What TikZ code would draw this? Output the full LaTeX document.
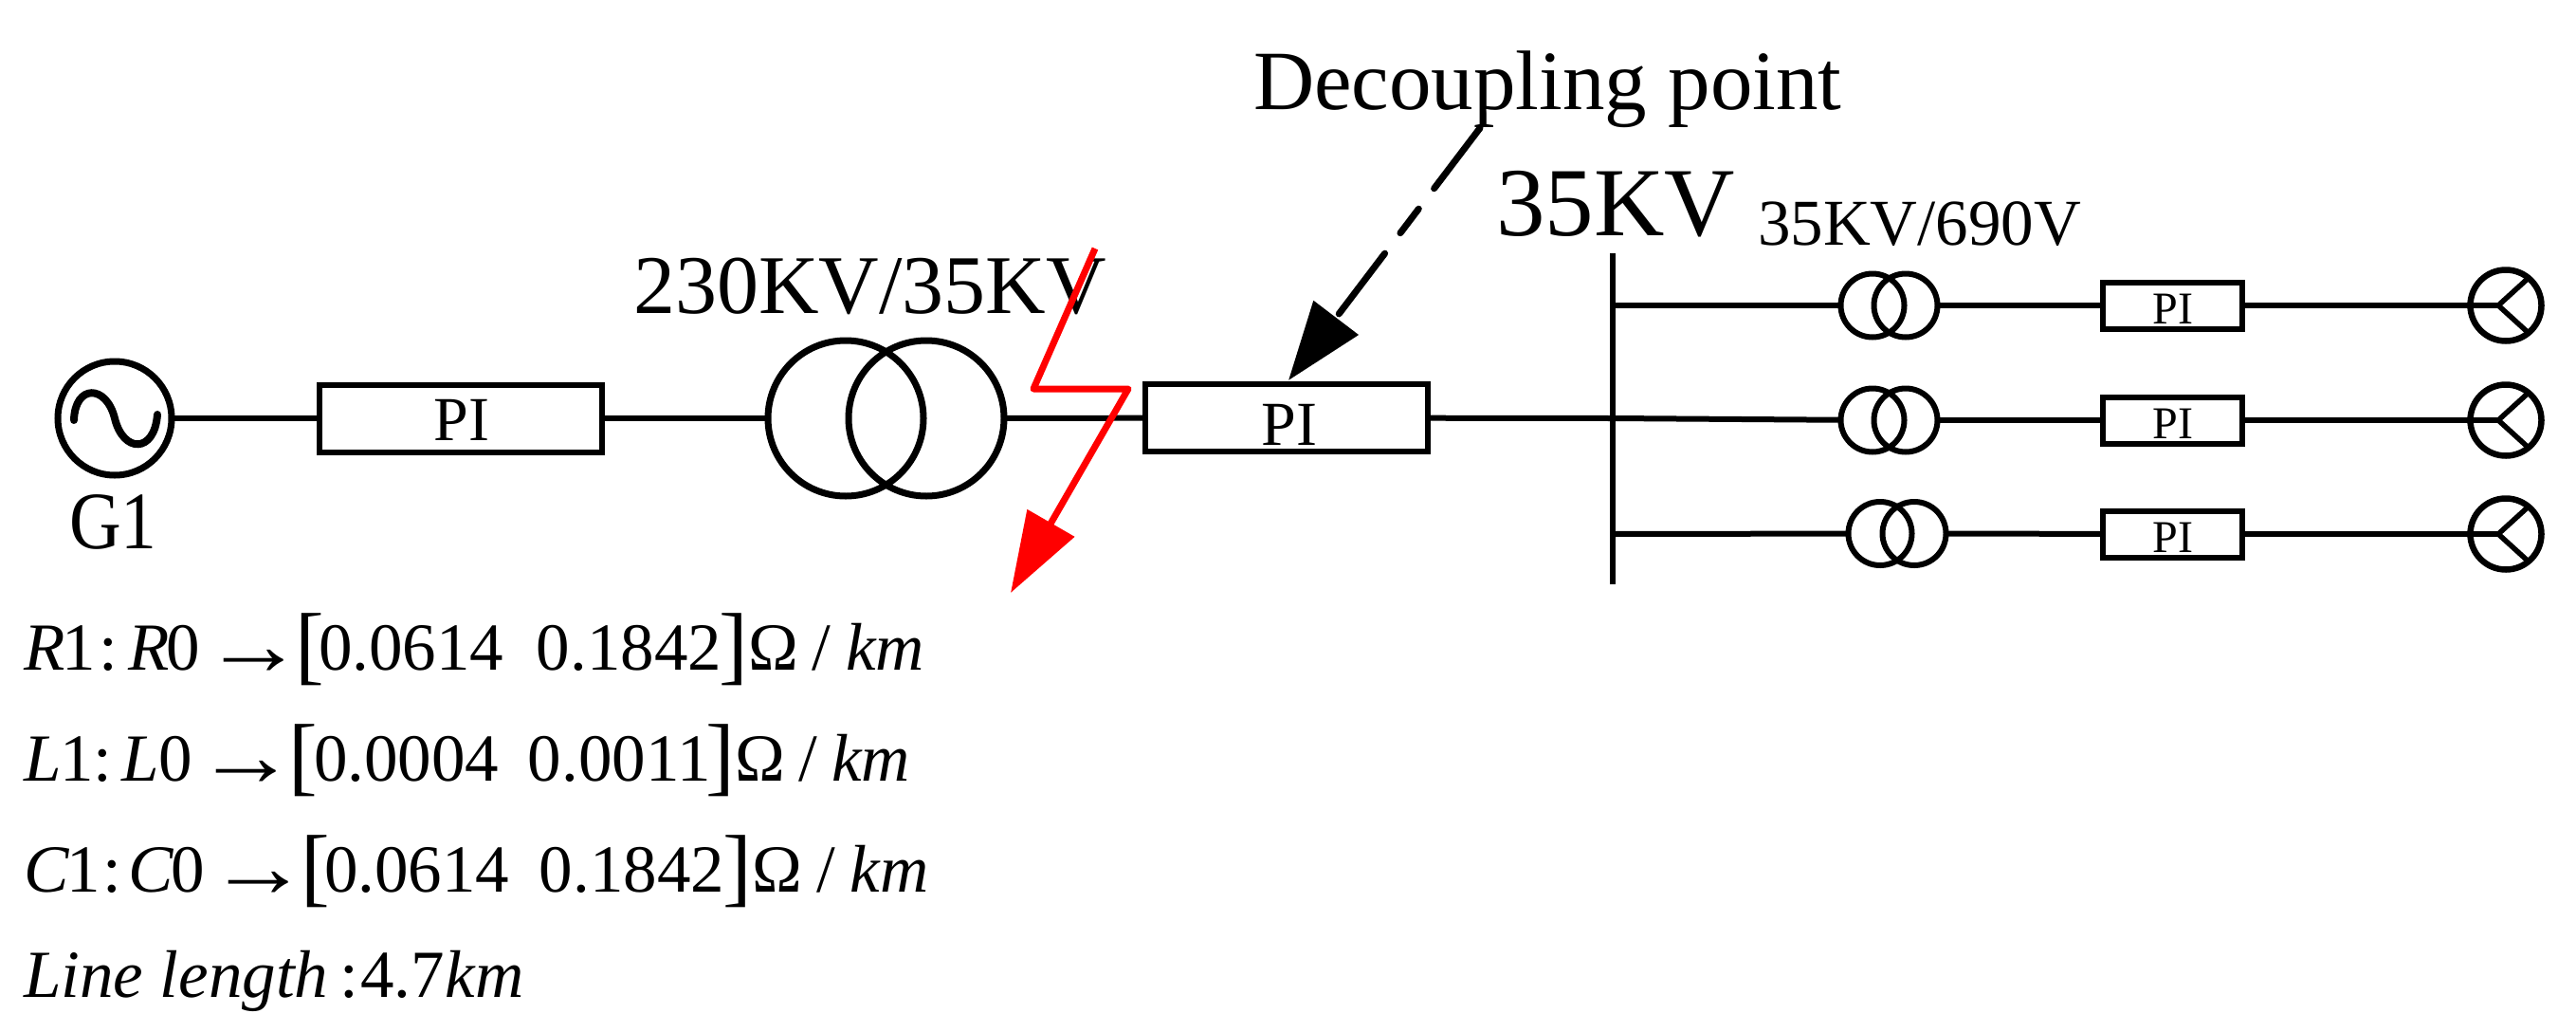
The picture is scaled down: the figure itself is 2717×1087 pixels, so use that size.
\documentclass[tikz,border=0pt]{standalone}
\usepackage{fontspec}
\setmainfont{Liberation Serif}
\usetikzlibrary{arrows.meta}
\newcommand\fsz[1]{\fontsize{#1}{#1}\selectfont}
\newcommand\at[2]{\rlap{\kern#1pt #2}}
\newcommand\lb[1]{\rlap{\kern#1pt\raisebox{-4pt}{\fsz{92}[}}}
\newcommand\rb[1]{\rlap{\kern#1pt\raisebox{-4pt}{\fsz{92}]}}}
\newcommand\ar[1]{\rlap{\kern#1pt\raisebox{-5pt}{\scalebox{1.5}[1.3]{→}}}}
\tikzset{
  wire/.style={line width=6pt},
  lab/.style={inner sep=0pt,outer sep=0pt,anchor=base west},
  ring/.style={circle,draw,line width=7pt,inner sep=0pt,outer sep=0pt},
  gener/.style={ring,minimum size=120pt},
  bigtr/.style={ring,minimum size=164pt},
  smalltr/.style={ring,line width=6pt,minimum size=67pt},
  load/.style={ring,line width=6.5pt,minimum size=75pt},
  pibox/.style={draw,line width=6pt,inner sep=0pt,outer sep=0pt,rectangle},
  bigpi/.style={pibox,minimum width=298pt,minimum height=71pt},
  smallpi/.style={pibox,minimum width=147pt,minimum height=49pt},
  pit/.style={lab,anchor=base,font=\fsz{66}},
  spit/.style={lab,anchor=base,font=\fsz{48}},
  formula/.style={lab,font=\fsz{71}},
  fault/.style={draw=red,line width=7pt,line join=round},
  pointer/.style={line width=7pt,line cap=round,dash pattern=on 80pt off 27pt on 32pt off 27pt}
}
\begin{document}
\begin{tikzpicture}[x=1pt,y=-1pt]
\useasboundingbox (0,0) rectangle (2717,1087);
% main line
\node[gener] (gen) at (121,441) {};
\node[bigpi] (pi1) at (485.5,441) {};
\node[bigtr] (tra) at (892,441) {};
\node[bigtr] (trb) at (977,441) {};
\node[bigpi] (pi2) at (1357,440.5) {};
\coordinate (bustop) at (1700.5,267);
\coordinate (busbot) at (1700.5,616);
\coordinate (bus1) at (1700.5,322);
\coordinate (bus2) at (1700.5,441);
\coordinate (bus3) at (1700.5,563);
% branches
\node[smalltr] (t1a) at (1975,322) {};
\node[smalltr] (t1b) at (2010,322) {};
\node[smalltr] (t2a) at (1975,443) {};
\node[smalltr] (t2b) at (2010,443) {};
\node[smalltr] (t3a) at (1983,562.5) {};
\node[smalltr] (t3b) at (2019,562.5) {};
\node[smallpi] (p1) at (2291.5,322) {};
\node[smallpi] (p2) at (2291.5,443) {};
\node[smallpi] (p3) at (2291.5,563) {};
\node[load] (l1) at (2643,322) {};
\node[load] (l2) at (2643,443) {};
\node[load] (l3) at (2643,563) {};
% connectors
\draw[wire] (gen) -- (pi1);
\draw[wire] (pi1) -- (tra);
\draw[wire] (trb) -- (pi2);
\draw[wire] (pi2) -- (bus2);
\draw[wire] (bustop) -- (busbot);
\draw[wire] (bus1) -- (t1a);
\draw[wire] (bus2) -- (t2a);
\draw[wire] (bus3) -- (t3a);
\draw[wire] (t1b) -- (p1);
\draw[wire] (t2b) -- (p2);
\draw[wire] (t3b) -- (p3);
\draw[wire] (p1) -- (l1);
\draw[wire] (p2) -- (l2);
\draw[wire] (p3) -- (l3);
% load stars
\foreach \n in {l1,l2,l3}{
  \draw[line width=5.5pt,line join=miter] ([shift={(25,-30)}]\n.center) -- ([shift={(-8,0)}]\n.center) -- ([shift={(25,30)}]\n.center);
  \draw[wire] (\n.west) -- ([shift={(-8,0)}]\n.center);
}
% sine
\draw[line width=8pt,line cap=round] (78,443) .. controls (79,405) and (112,405) .. (121,441) .. controls (130,478) and (163,478) .. (166,437);
% labels
\node[pit] (pi1t) at (487,464) {PI};
\node[pit] (pi2t) at (1360,469) {PI};
\node[spit] (p1t) at (2292,341) {PI};
\node[spit] (p2t) at (2292,462) {PI};
\node[spit] (p3t) at (2292,582) {PI};
\node[lab,font=\fsz{86}] (g1) at (73,578) {\scalebox{.88}[1]{G1}};
\node[lab,font=\fsz{88}] (t230) at (668,330) {230KV/35KV};
\node[lab,font=\fsz{89}] (dec) at (1322,115) {Decoupling point};
\node[lab,font=\fsz{103}] (kv35) at (1578,248) {35KV};
\node[lab,font=\fsz{69}] (kv690) at (1854,258) {35KV/690V};
% fault
\coordinate (fa) at (1155,262);
\coordinate (fb) at (1090,410);
\coordinate (fc) at (1190,410);
\coordinate (fd) at (1066,625);
\draw[fault,fill=none,-{Triangle[length=85pt,width=56pt,fill=red]}] (fa) -- (fb) -- (fc) -- (fd);
% pointer
\coordinate (da) at (1561,135);
\coordinate (db) at (1359,401);
\draw[pointer,-{Triangle[length=83pt,width=58pt,line cap=butt,sep=0pt]}] (da) -- (db);
% formulas
\node[formula] (f1) at (25,706) {\makebox[946pt][l]{\at{0}{\textit{R}\kern-3pt 1}\at{80}{:}\at{110}{\textit{R}\kern-3pt 0}\ar{189}\lb{286}\at{311}{0.0614}\at{541}{0.1842}\rb{733}\at{764}{Ω}\at{832}{/}\at{867}{\textit{km}}}};
\node[formula] (f2) at (25,823) {\makebox[931pt][l]{\at{0}{\textit{L}\kern-1pt 1}\at{74}{:}\at{104}{\textit{L}\kern-1pt 0}\ar{181}\lb{279}\at{306}{0.0004}\at{532}{0.0011}\rb{719}\at{750}{Ω}\at{818}{/}\at{852}{\textit{km}}}};
\node[formula] (f3) at (25,940) {\makebox[951pt][l]{\at{0}{\textit{C}\kern-3pt 1}\at{84}{:}\at{110}{\textit{C}\kern-3pt 0}\ar{195}\lb{292}\at{317}{0.0614}\at{544}{0.1842}\rb{737}\at{768}{Ω}\at{837}{/}\at{872}{\textit{km}}}};
\node[formula] (f4) at (25,1051) {\makebox[524pt][l]{\at{0}{\textit{Line length}}\at{333}{:}\at{355}{4.7}\at{445}{\textit{km}}}};
\end{tikzpicture}
\end{document}
